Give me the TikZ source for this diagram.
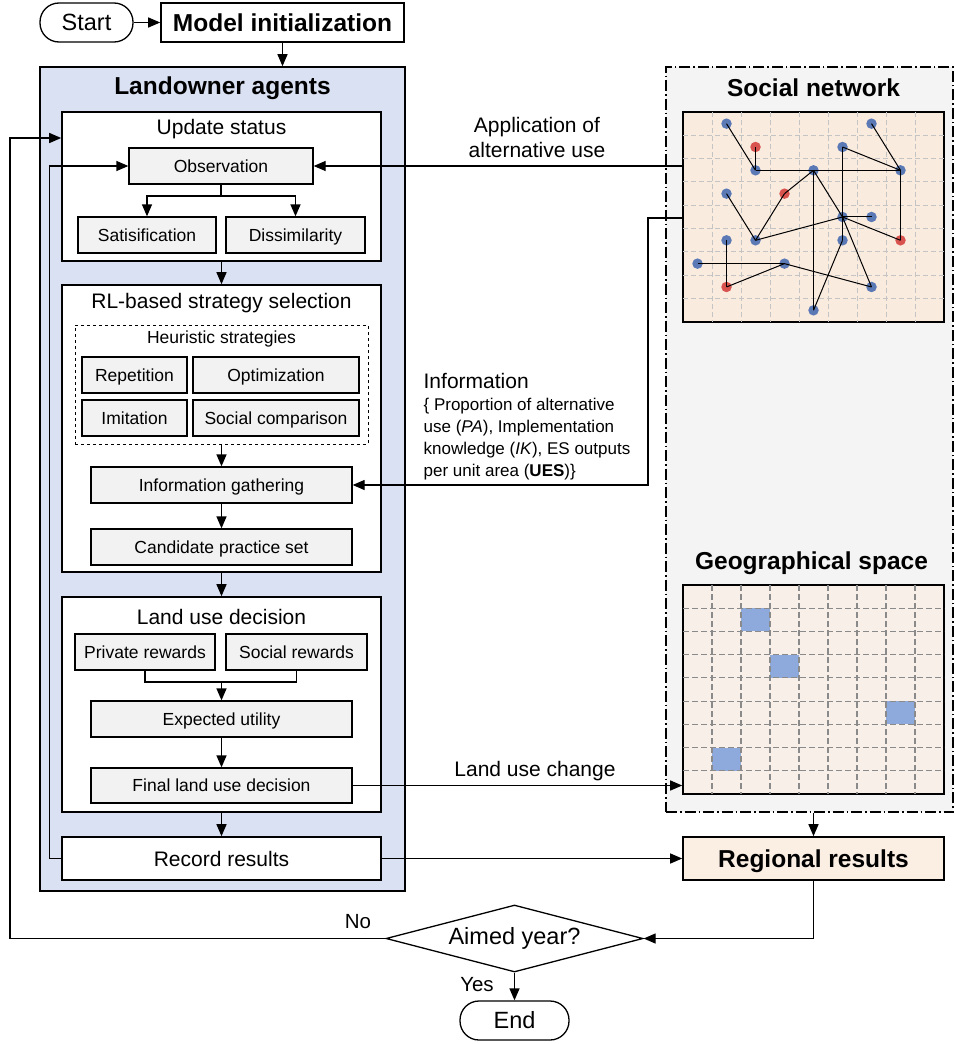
\documentclass[tikz,border=0pt]{standalone}
\usepackage{fontspec}
\setmainfont{Liberation Sans}
\usetikzlibrary{arrows.meta}
\usetikzlibrary{shapes.geometric}
\usetikzlibrary{calc}

\definecolor{agentblue}{HTML}{DAE1F3}
\definecolor{boxgray}{HTML}{F2F2F2}
\definecolor{panelgray}{HTML}{F4F4F4}
\definecolor{netpeach}{HTML}{FAEBDF}
\definecolor{geopeach}{HTML}{F8EFE8}
\definecolor{respeach}{HTML}{FBEEE3}
\definecolor{dotblue}{HTML}{5B79B4}
\definecolor{dotred}{HTML}{D8534E}
\definecolor{cellblue}{HTML}{8EA9DB}
\definecolor{netgrid}{HTML}{C4C4C4}
\definecolor{geogrid}{HTML}{8A8A8A}

\newcommand{\boxfont}{\fontsize{17.5}{21}\selectfont}
\newcommand{\secfont}{\fontsize{21}{25}\selectfont}
\newcommand{\headfont}{\fontsize{24.5}{29}\selectfont\bfseries}
\newcommand{\termfont}{\fontsize{23.5}{28}\selectfont}
\newcommand{\infofont}{\fontsize{17}{22}\selectfont}

\tikzset{
  container/.style={draw, line width=1.6pt, fill=white, inner sep=0pt},
  graybox/.style={draw, line width=1.3pt, fill=boxgray, inner sep=0pt, minimum height=36pt,
    text height=13pt, text depth=0.5pt, font=\boxfont},
  term/.style={draw, line width=1.3pt, fill=white, rounded corners=19pt, minimum height=39pt, inner sep=0pt, font=\termfont},
  link/.style={->, line width=1.3pt},
  netdot/.style={circle, inner sep=0pt, minimum size=10.5pt},
  lbl/.style={inner sep=0pt, font=\secfont}
}

\begin{document}
\begin{tikzpicture}[x=1pt, y=-1pt, >={Triangle[length=12pt,width=10pt]}, line width=1.3pt]
\useasboundingbox (0,0) rectangle (954,1044);

% start
\node[term, minimum width=93pt] (start) at (86.5,22.5) {Start};
\node[container, minimum width=243pt, minimum height=39pt, font=\headfont] (init) at (282.5,22.5) {Model initialization};
\draw[link] (start) -- (init);

% landowner agents
\node[container, fill=agentblue, minimum width=365pt, minimum height=824pt] (agents) at (222.5,479) {};
\node[lbl, font=\headfont] (agentstitle) at (222.5,88) {Landowner agents};
\draw[link] (init.south) -- (init.south |- agents.north);

% update status
\node[container, minimum width=319pt, minimum height=149pt] (upd) at (221.5,186.5) {};
\node[lbl] (updtitle) at (221.5,129) {Update status};
\node[graybox, minimum width=184pt] (obs) at (221,166) {Observation};
\node[graybox, minimum width=138pt] (sat) at (147,235) {Satisification};
\node[graybox, minimum width=139pt] (dis) at (295.5,235) {Dissimilarity};
\coordinate (split) at (221,196);
\draw (obs.south) -- (split);
\draw[link] (split) -| (sat.north);
\draw[link] (split) -| (dis.north);

% RL-based strategy selection
\node[container, minimum width=319pt, minimum height=287pt] (rl) at (221.5,428.5) {};
\node[lbl] (rltitle) at (221.5,303) {RL-based strategy selection};
\draw[link] (upd.south) -- (rl.north);
\node[draw, dashed, line width=1pt, minimum width=293pt, minimum height=119pt] (heur) at (221.5,384.5) {};
\node[lbl, font=\boxfont] (heurtitle) at (221.5,339) {Heuristic strategies};
\node[graybox, minimum width=105pt] (rep) at (134.5,375) {Repetition};
\node[graybox, minimum width=166pt] (opt) at (276,375) {Optimization};
\node[graybox, minimum width=105pt] (imi) at (134.5,418) {Imitation};
\node[graybox, minimum width=166pt] (soc) at (276,418) {Social comparison};
\node[graybox, minimum width=261pt] (gath) at (221.5,485) {Information gathering};
\node[graybox, minimum width=261pt] (cand) at (221.5,547) {Candidate practice set};
\draw[link] (heur.south) -- (gath.north);
\draw[link] (gath) -- (cand);

% land use decision
\node[container, minimum width=319pt, minimum height=215pt] (lud) at (221.5,704.5) {};
\node[lbl] (ludtitle) at (221.5,617) {Land use decision};
\draw[link] (rl.south) -- (lud.north);
\node[graybox, minimum width=140pt] (priv) at (145,652) {Private rewards};
\node[graybox, minimum width=141pt] (socr) at (296.5,652) {Social rewards};
\node[graybox, minimum width=261pt] (expu) at (221.5,719) {Expected utility};
\node[graybox, minimum width=261pt, minimum height=35pt] (final) at (221.5,785.5) {Final land use decision};
\coordinate (merge) at (221.5,682);
\draw (priv.south) |- (merge) -| (socr.south);
\draw[link] (merge) -- (expu.north);
\draw[link] (expu) -- (final);

% record results
\node[container, minimum width=319pt, minimum height=43pt, font=\secfont] (rec) at (221.5,858.5) {Record results};
\draw[link] (lud.south) -- (rec.north);
\draw[link] (rec.west) -- ++(-12,0) |- (obs.west);

% right panel
\node[draw, fill=panelgray, line width=1.3pt, dash pattern=on 11pt off 3pt on 1.5pt off 3pt,
      minimum width=287pt, minimum height=745pt] (panel) at (809.5,439.5) {};
\node[lbl, font=\headfont] (nettitle) at (813.5,88) {Social network};
\node[lbl, font=\headfont] (geotitle) at (811.5,563) {Geographical space};

% social network grid
\node[container, fill=netpeach, minimum width=261pt, minimum height=210pt] (snet) at (813.5,217) {};
\foreach \i in {1,...,8} {
 \draw[netgrid, line width=1pt, dash pattern=on 5pt off 3pt] (683+\i*29,112) --++(0,210);
 \draw[netgrid, line width=1pt, dash pattern=on 5pt off 3pt] (683,{112+\i*23.33}) --++(261,0);
}
\foreach \n/\c/\r/\col in {1/1/0/dotblue, 2/2/1/dotred, 3/2/2/dotblue, 4/6/0/dotblue, 5/5/1/dotblue,
  6/4/2/dotblue, 7/7/2/dotblue, 8/1/3/dotblue, 9/3/3/dotred, 10/5/4/dotblue, 11/6/4/dotblue,
  12/1/5/dotblue, 13/2/5/dotblue, 14/5/5/dotblue, 15/7/5/dotred, 16/0/6/dotblue, 17/3/6/dotblue,
  18/1/7/dotred, 19/6/7/dotblue, 20/4/8/dotblue} {
 \node[netdot, fill=\col] (s\n) at ({683+(\c+0.5)*29},{112+(\r+0.5)*23.33}) {};
}
\foreach \a/\b in {1/3, 2/3, 3/6, 6/7, 4/7, 5/7, 5/14, 6/9, 6/20, 6/10, 10/19, 10/11, 10/15,
  7/15, 8/13, 9/13, 13/10, 12/18, 16/17, 18/17, 17/19, 14/20} {
 \draw[line width=1pt] (s\a.center) -- (s\b.center);
}

% geographical grid
\node[container, fill=geopeach, minimum width=261pt, minimum height=209pt] (geo) at (813.5,689.5) {};
\foreach \c/\r in {2/1, 3/3, 7/5, 1/7} {
 \fill[cellblue] (683+\c*29,{585+\r*23.22}) rectangle ++(29,23.22);
}
\foreach \i in {1,...,8} {
 \draw[geogrid, line width=1.2pt, dash pattern=on 6pt off 3pt] (683+\i*29,585) --++(0,209);
 \draw[geogrid, line width=1.2pt, dash pattern=on 6pt off 3pt] (683,{585+\i*23.22}) --++(261,0);
}

% regional results
\node[container, fill=respeach, minimum width=261pt, minimum height=43pt, text height=18pt, text depth=0.5pt, font=\headfont] (reg) at (813.5,858.5) {Regional results};
\draw[link] (reg.north |- panel.south) -- (reg.north);

% flows between sides
\draw[link] (snet.west |- obs.east) -- (obs.east);
\node[lbl, align=center, font=\fontsize{21}{25}\selectfont] (applbl) at (537,137) {Application of\\alternative use};
\coordinate (infocorner) at (648,218);
\draw[link] (snet.west |- infocorner) -- (infocorner) |- (gath.east);
\node[anchor=north west, align=left, inner sep=0pt, font=\infofont] (infolbl) at (423,373)
 {{\secfont Information}\\
  \{ Proportion of alternative\\
  use (\textit{PA}), Implementation\\
  knowledge (\textit{IK}), ES outputs\\
  per unit area (\textbf{UES})\}};
\draw[link] (final.east) -- (final.east -| geo.west);
\node[lbl] (luclbl) at (535,771) {Land use change};
\draw[link] (rec.east) -- (reg.west);

% decision
\node[draw, diamond, aspect=3.84, line width=1.3pt, fill=white, inner sep=0pt, minimum width=257pt, minimum height=67pt, font=\termfont] (aim) at (514.5,938.5) {Aimed year?};
\draw[link] (reg.south) |- (aim.east);
\coordinate (backtop) at (10,138);
\draw[link] (aim.west) -| (backtop) -- (upd.west |- backtop);
\node[lbl, font=\fontsize{20.5}{24}\selectfont] (nolbl) at (358,922) {No};
\node[term, minimum width=109pt] (end) at (514.5,1020.5) {End};
\draw[link] (aim.south) -- (end.north);
\node[lbl, font=\fontsize{20.5}{24}\selectfont] (yeslbl) at (477,985) {Yes};
\end{tikzpicture}
\end{document}
